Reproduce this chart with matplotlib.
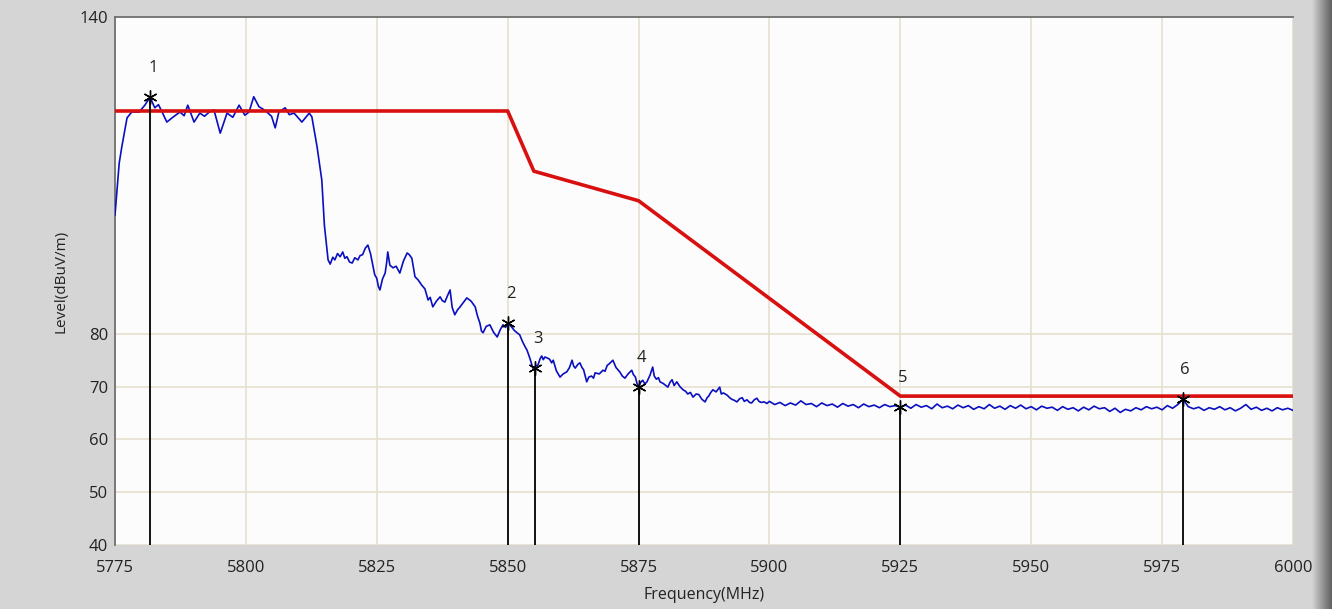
import matplotlib.pyplot as plt
import numpy as np

# measured trace (MHz, dBuV/m) read off the picture, in three stretches
# in-band plateau and the first drop
band_freq = [5775.0, 5775.8, 5776.3, 5777.3, 5778.2, 5779.6, 5780.7, 5781.7, 5782.6, 5783.3,
             5784.0, 5784.9, 5785.9, 5787.4, 5788.2, 5788.9, 5790.1, 5791.2, 5792.1, 5793.0,
             5793.9, 5795.1, 5796.4, 5797.5, 5798.7, 5799.8, 5800.6, 5801.5, 5802.5, 5803.2,
             5804.0, 5804.9, 5805.6, 5806.3, 5807.5, 5808.3, 5809.2, 5810.7, 5812.1, 5812.6,
             5813.6, 5814.5, 5815.0]
band_level = [102.5, 112.3, 115.4, 120.9, 122.0, 122.0, 123.3, 124.8, 122.8, 123.4,
              122.0, 120.1, 120.9, 122.0, 121.3, 123.3, 120.1, 121.8, 121.2, 122.0,
              122.4, 118.0, 121.8, 121.0, 123.3, 121.4, 122.0, 124.9, 123.0, 122.6,
              122.0, 121.2, 119.0, 122.0, 122.8, 121.5, 121.8, 120.1, 121.8, 121.1,
              115.4, 109.1, 100.5]

# shoulder sloping down to the noise floor
slope_freq = [5815.7, 5816.1, 5816.6, 5817.0, 5817.5, 5818.0, 5818.5, 5818.9, 5819.3, 5819.8,
              5820.3, 5820.8, 5821.4, 5821.8, 5822.3, 5822.8, 5823.3, 5823.8, 5824.3, 5824.6,
              5825.0, 5825.3, 5825.6, 5826.1, 5826.6, 5826.9, 5827.1, 5827.5, 5828.1, 5828.7,
              5829.4, 5830.1, 5830.8, 5831.2, 5831.7, 5832.3, 5832.9, 5833.6, 5834.2, 5834.8,
              5835.2, 5835.7, 5836.4, 5837.1, 5837.5, 5838.0, 5838.5, 5839.0, 5839.4, 5839.9,
              5840.4, 5840.9, 5841.5, 5842.2, 5843.0, 5843.8, 5844.2, 5844.7, 5845.0, 5845.3,
              5845.9, 5846.6, 5847.3, 5848.0, 5848.6, 5849.1, 5849.6, 5850.0, 5850.5, 5850.9,
              5851.3, 5851.8, 5852.3, 5852.8, 5853.3, 5853.7, 5854.3, 5854.8, 5855.3, 5855.8,
              5856.2, 5856.5, 5856.8, 5857.1, 5857.6, 5858.0, 5858.4, 5858.7, 5859.3, 5860.0,
              5860.6, 5861.3, 5861.8, 5862.3, 5862.6, 5862.9, 5863.4, 5863.8, 5864.2, 5864.5,
              5865.1, 5865.5, 5866.0, 5866.4, 5866.7, 5867.5, 5868.2, 5868.6, 5869.0, 5869.5,
              5870.1, 5870.7, 5871.4, 5871.9, 5872.4, 5873.0, 5873.7, 5874.0, 5874.4, 5874.7,
              5875.0, 5875.4, 5875.8, 5876.2, 5876.6, 5877.2, 5877.7, 5878.0, 5878.4, 5878.8,
              5879.1, 5879.7, 5880.2, 5880.6, 5881.0, 5881.4, 5881.8, 5882.3, 5882.9, 5883.5,
              5884.0, 5884.4, 5884.9, 5885.4, 5886.0, 5886.5, 5887.1, 5887.7, 5888.1, 5888.4,
              5888.8, 5889.2, 5889.8, 5890.5, 5890.8, 5891.2, 5891.9, 5892.4, 5892.8, 5893.3,
              5893.8, 5894.3, 5894.8, 5895.2, 5895.7, 5896.2, 5896.6, 5897.1, 5897.6, 5898.0,
              5898.4, 5899.0, 5899.5]
slope_level = [94.0, 93.2, 94.5, 94.0, 95.2, 94.6, 95.5, 94.3, 94.6, 93.6,
               93.4, 94.4, 94.0, 94.8, 95.0, 96.2, 96.8, 95.2, 92.7, 91.2,
               90.5, 89.0, 88.3, 90.4, 91.5, 93.6, 95.5, 93.0, 92.5, 92.8,
               91.5, 93.8, 95.3, 95.0, 94.3, 90.8, 90.2, 89.2, 88.5, 86.4,
               86.9, 85.1, 86.2, 87.0, 86.3, 86.0, 87.2, 88.3, 85.0, 83.6,
               84.5, 85.1, 85.9, 86.8, 86.2, 85.1, 83.5, 82.0, 80.5, 80.2,
               81.4, 81.7, 80.3, 79.4, 80.8, 81.7, 81.2, 82.0, 81.6, 81.1,
               80.6, 80.2, 79.8, 78.6, 77.6, 76.9, 75.2, 73.5, 73.9, 74.1,
               75.3, 75.8, 75.1, 75.6, 75.4, 75.2, 74.5, 75.0, 73.0, 71.8,
               72.4, 72.8, 73.6, 75.0, 73.9, 73.5, 74.2, 74.5, 73.6, 73.2,
               70.9, 71.8, 72.0, 71.6, 72.6, 72.4, 73.1, 72.9, 74.0, 74.4,
               75.0, 73.6, 72.8, 72.0, 71.6, 72.4, 73.1, 72.3, 71.8, 70.6,
               70.0, 70.8, 71.2, 70.5, 70.9, 72.2, 73.7, 72.0, 71.4, 71.7,
               70.9, 70.6, 70.2, 69.9, 70.8, 71.3, 70.2, 70.9, 70.0, 69.4,
               69.1, 68.6, 68.9, 68.0, 68.6, 68.5, 67.6, 67.1, 67.9, 68.2,
               68.9, 69.4, 69.0, 69.9, 68.6, 68.8, 68.4, 67.9, 67.6, 67.4,
               67.1, 67.7, 67.9, 67.2, 67.5, 67.0, 66.9, 67.5, 67.8, 67.2,
               67.0, 67.1, 66.8]

# noise floor
floor_freq = [5900, 5901, 5902, 5903, 5904, 5905, 5906, 5907, 5908, 5909,
              5910, 5911, 5912, 5913, 5914, 5915, 5916, 5917, 5918, 5919,
              5920, 5921, 5922, 5923, 5924, 5925, 5926, 5927, 5928, 5929,
              5930, 5931, 5932, 5933, 5934, 5935, 5936, 5937, 5938, 5939,
              5940, 5941, 5942, 5943, 5944, 5945, 5946, 5947, 5948, 5949,
              5950, 5951, 5952, 5953, 5954, 5955, 5956, 5957, 5958, 5959,
              5960, 5961, 5962, 5963, 5964, 5965, 5966, 5967, 5968, 5969,
              5970, 5971, 5972, 5973, 5974, 5975, 5976, 5977, 5978, 5979,
              5980, 5981, 5982, 5983, 5984, 5985, 5986, 5987, 5988, 5989,
              5990, 5991, 5992, 5993, 5994, 5995, 5996, 5997, 5998, 5999, 6000]
floor_level = [67.2, 66.6, 67.0, 66.4, 66.9, 66.5, 67.3, 66.6, 66.8, 66.2,
               66.9, 66.4, 66.7, 66.1, 66.8, 66.3, 66.6, 66.0, 66.7, 66.2,
               66.5, 66.0, 66.6, 66.2, 66.4, 66.1, 66.5, 65.9, 66.6, 66.1,
               66.4, 65.8, 66.7, 66.0, 66.3, 65.8, 66.5, 66.0, 66.4, 65.7,
               66.2, 65.8, 66.6, 65.9, 66.3, 65.7, 66.4, 65.9, 66.5, 65.8,
               66.2, 65.6, 66.3, 65.9, 66.1, 65.5, 66.2, 65.7, 66.0, 65.4,
               66.1, 65.6, 66.3, 65.8, 66.0, 65.3, 65.9, 65.1, 65.7, 65.4,
               66.0, 65.6, 66.2, 65.8, 66.1, 65.6, 66.4, 65.9, 66.6, 67.6,
               66.2, 65.8, 66.1, 65.5, 66.0, 65.7, 66.2, 65.6, 66.0, 65.4,
               65.9, 66.6, 65.7, 66.1, 65.5, 65.9, 65.4, 66.0, 65.6, 65.9, 65.5]

# limit mask
limit_freq = [5775, 5850, 5855, 5875, 5925, 6000]
limit_level = [122.2, 122.2, 110.8, 105.2, 68.2, 68.2]

# markers
marker_freq = [5781.7, 5850.0, 5855.2, 5875.0, 5925.0, 5978.9]
marker_level = [124.8, 82.0, 73.5, 70.0, 66.1, 67.6]
marker_labels = ['1', '2', '3', '4', '5', '6']

x_ticks = [5775, 5800, 5825, 5850, 5875, 5900, 5925, 5950, 5975, 6000]
y_ticks = [40, 50, 60, 70, 80, 140]

trace_freq = band_freq + slope_freq + floor_freq
trace_level = band_level + slope_level + floor_level

plt.rcParams['font.family'] = ['Open Sans', 'DejaVu Sans']

fig = plt.figure(figsize=(13.32, 6.09), dpi=100, facecolor='#d5d5d5')

# darker frame edge on the right of the window (drawn first, under the chart)
edge = fig.add_axes([1312/1332, 0, 20/1332, 1])
edge.imshow(np.linspace(0.82, 0.38, 20).reshape(1, -1), cmap='gray', vmin=0, vmax=1,
            aspect='auto', extent=[0, 1, 0, 1])
edge.axis('off')

ax = fig.add_axes([115/1332, 1 - 545/609, 1178/1332, 528/609])
ax.set_facecolor('#fcfcfc')

ax.plot(trace_freq, trace_level, color='#0a0fc0', lw=1.2, zorder=3)
ax.plot(limit_freq, limit_level, color='#d81010', lw=2.6, zorder=4)

for f, lv, lab in zip(marker_freq, marker_level, marker_labels):
    ax.plot([f, f], [40, lv], color='black', lw=1.3, zorder=5)
    ax.plot(f, lv, marker=(6, 2, 0), color='black', ms=10, mew=1.0, zorder=6)
    ax.annotate(lab, (f, lv), xytext=(2, 15), textcoords='offset points',
                ha='center', va='bottom', fontsize=12, color='#222222')

ax.set_xlim(5775, 6000)
ax.set_ylim(40, 140)
ax.set_xticks(x_ticks)
ax.set_yticks(y_ticks)
ax.grid(True, color='#e6e0cf', lw=1.2, zorder=0)
ax.tick_params(length=0, labelsize=12, colors='#222222')
ax.tick_params(axis='x', pad=11)
ax.tick_params(axis='y', pad=5)

for side in ['bottom', 'right']:
    ax.spines[side].set_visible(False)
for side in ['left', 'top']:
    ax.spines[side].set_color('#707070')
    ax.spines[side].set_linewidth(1.3)

ax.set_xlabel('Frequency(MHz)', fontsize=11.5, color='#222222', labelpad=8)
ax.set_ylabel('Level(dBuV/m)', fontsize=11, color='#222222', labelpad=8)

fig.savefig('out.png', dpi=100, facecolor=fig.get_facecolor())
